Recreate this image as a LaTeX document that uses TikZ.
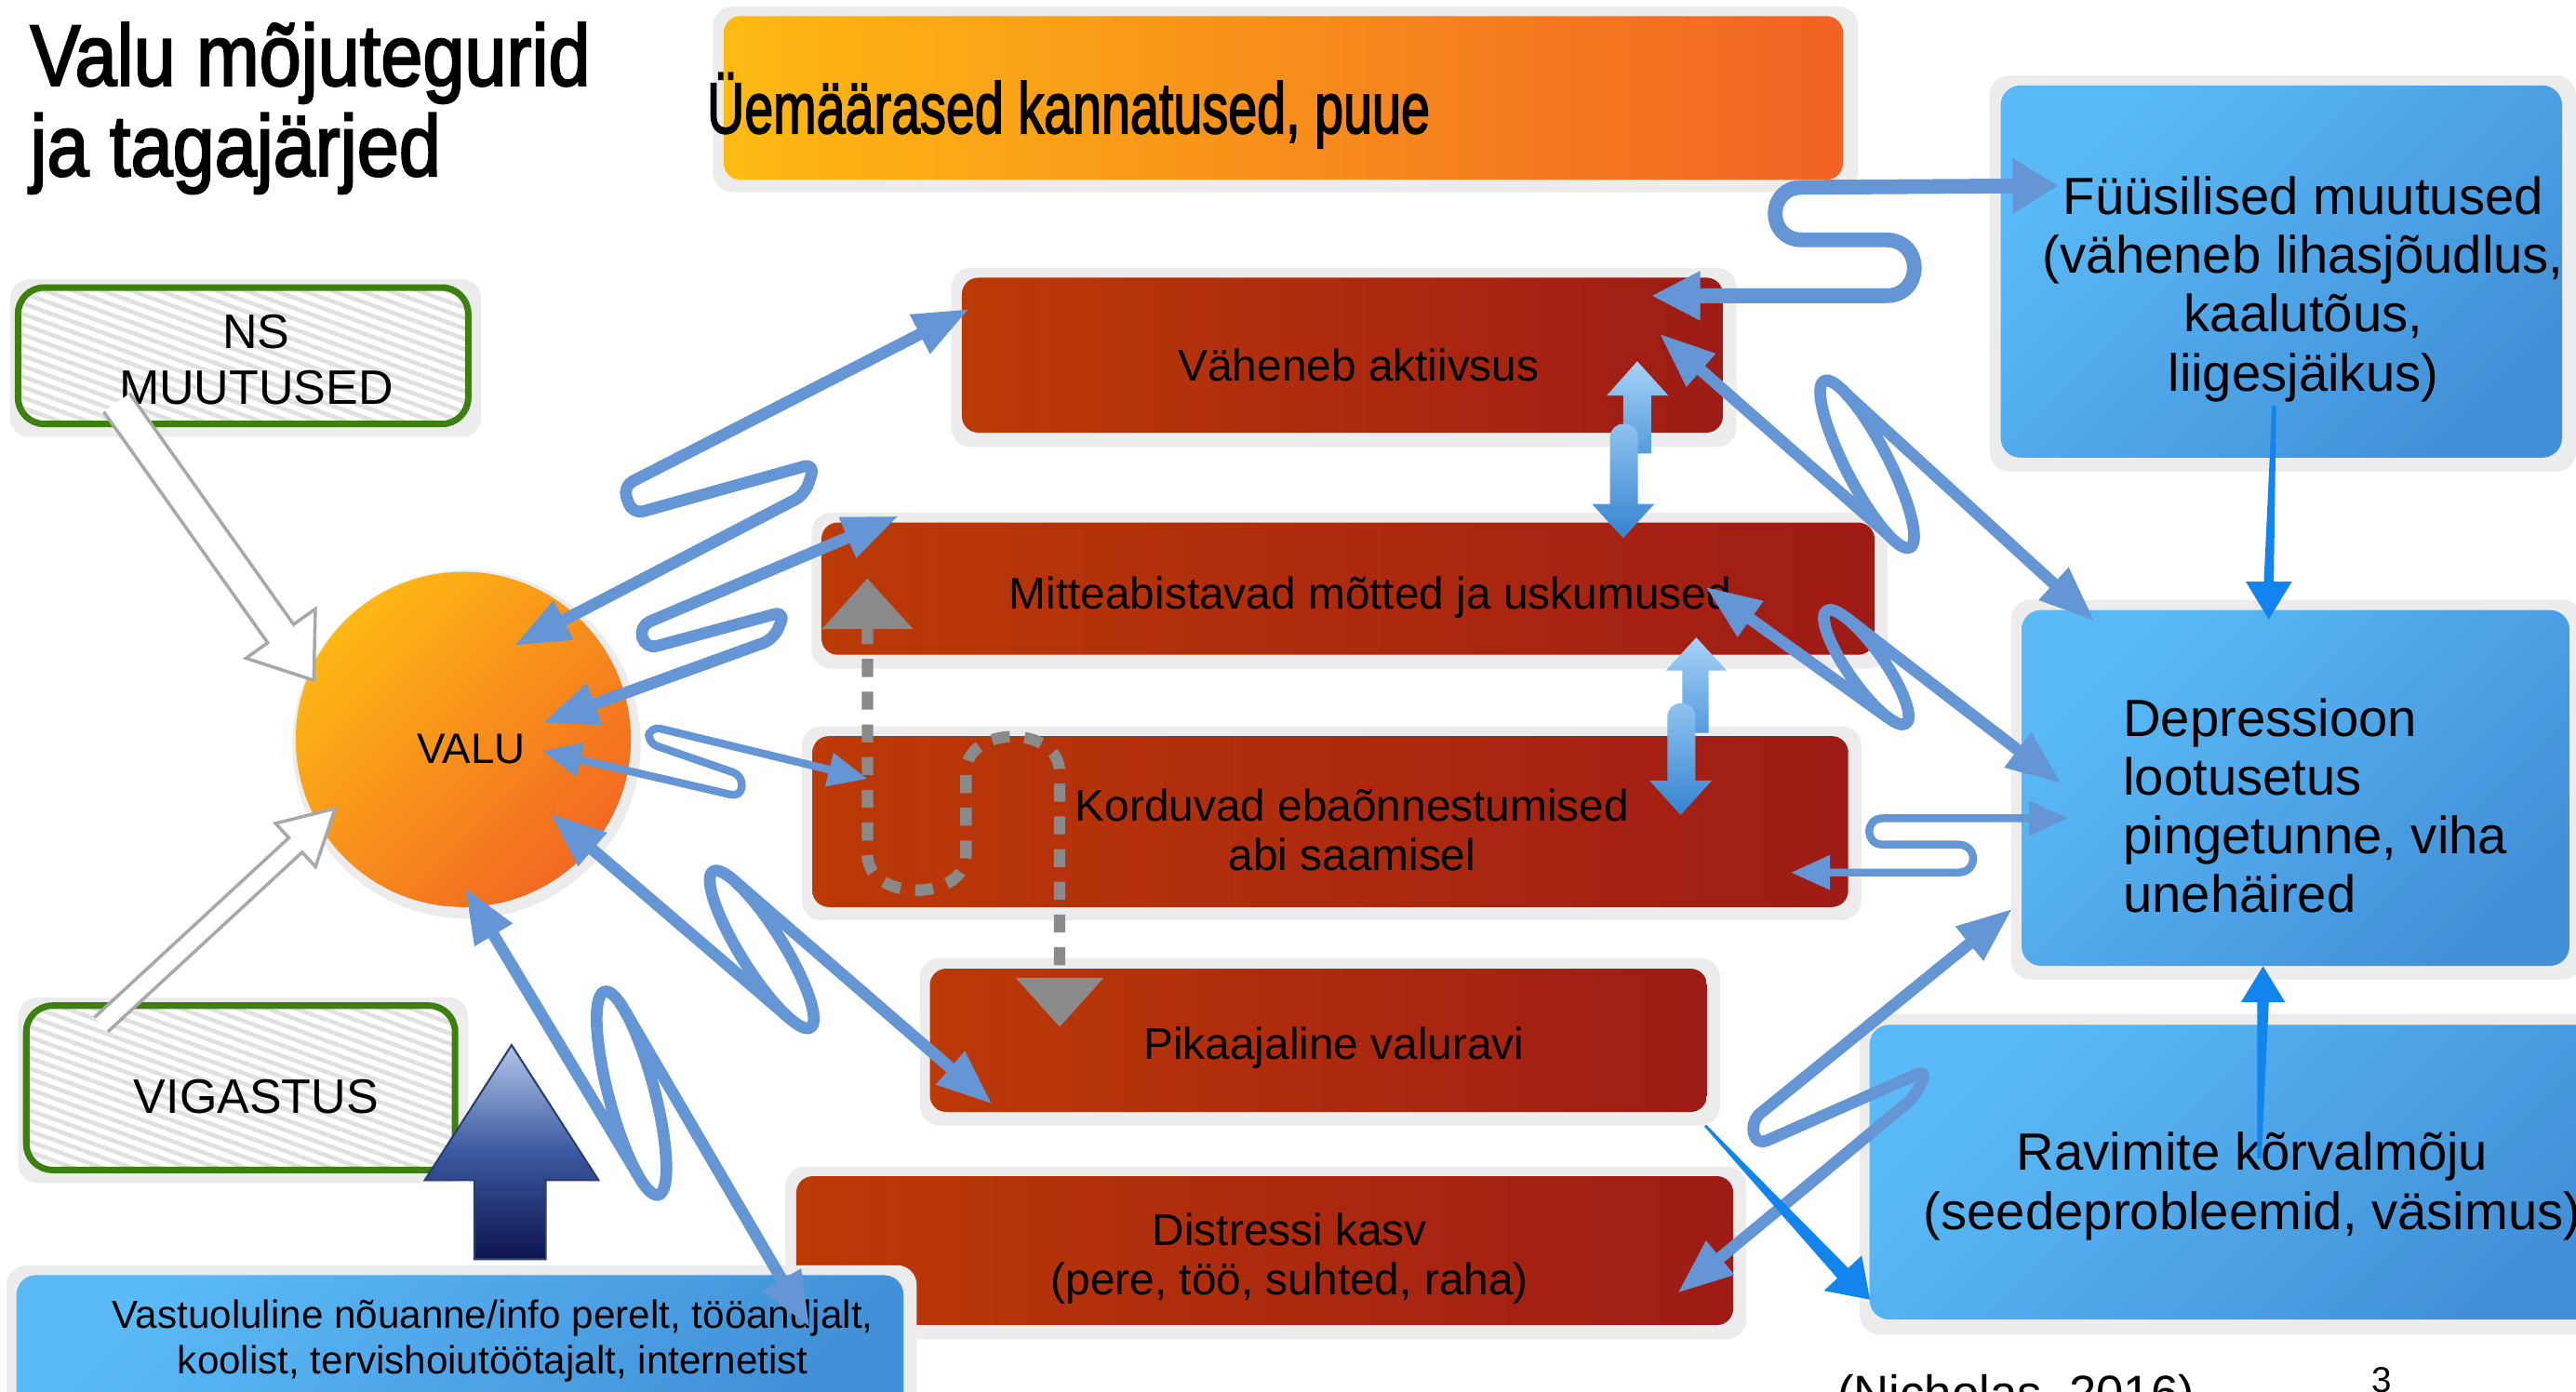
\documentclass[tikz,border=0pt]{standalone}
\usepackage{fontspec}
\setmainfont{Liberation Sans}
\newfontfamily\titlefont[FakeBold=2.5]{Liberation Sans}
\usepackage{graphicx}
\usetikzlibrary{arrows.meta,calc,patterns.meta}
\definecolor{cblue}{RGB}{100,150,214}
\definecolor{bbright}{RGB}{18,132,238}
\definecolor{redL}{RGB}{188,58,6}
\definecolor{redR}{RGB}{158,27,22}
\definecolor{bluT}{RGB}{90,186,247}
\definecolor{bluB}{RGB}{66,145,216}
\definecolor{orT}{RGB}{254,186,18}
\definecolor{orB}{RGB}{241,98,36}
\definecolor{vT}{RGB}{254,184,20}
\definecolor{vB}{RGB}{242,104,34}
\definecolor{grn}{RGB}{62,128,16}
\definecolor{halo}{RGB}{236,236,236}
\definecolor{dashg}{RGB}{138,138,138}
\definecolor{holg}{RGB}{168,168,168}
\definecolor{navyT}{RGB}{178,198,232}
\definecolor{navyM}{RGB}{60,88,160}
\definecolor{navyB}{RGB}{12,20,78}
\definecolor{dT}{RGB}{165,210,248}
\definecolor{dB}{RGB}{52,132,208}
\tikzset{
  halobox/.style={fill=halo, rounded corners=6pt},
  redbox/.style={left color=redL, right color=redR, rounded corners=5pt},
  blubox/.style={top color=bluT, bottom color=bluB, shading angle=45, rounded corners=6pt},
  orbox/.style={left color=orT, right color=orB, rounded corners=5pt},
  greenframe/.style={draw=grn, line width=2pt, rounded corners=8pt},
  hatch/.style={pattern={Lines[angle=-20,distance=3pt,line width=1.3pt]}, pattern color=black!12, rounded corners=8pt},
  txt/.style={inner sep=0pt, align=center, text=black},
  redtxt/.style={txt, font=\fontsize{13.6}{15}\selectfont},
  blutxt/.style={txt, font=\fontsize{16}{18}\selectfont},
  conn/.style={draw=cblue, line width=3.6pt, line cap=round, line join=round},
  thinconn/.style={draw=cblue, line width=2.4pt, line cap=round, line join=round},
  tipA/.style={{Triangle[length=17pt,width=12.5pt]}-{Triangle[length=17pt,width=12.5pt]}},
  tipS/.style={{Triangle[length=17pt,width=12.5pt]}-},
  tipE/.style={-{Triangle[length=17pt,width=12.5pt]}},
  tipSm/.style={{Triangle[length=12pt,width=10pt]}-{Triangle[length=12pt,width=10pt]}},
  tipF/.style={{Triangle[length=15pt,width=14pt]}-{Triangle[length=14pt,width=16pt]}},
  dashU/.style={draw=dashg, line width=3.5pt, dash pattern=on 5.5pt off 4.5pt, {Triangle[length=15.5pt,width=27pt]}-{Triangle[length=15pt,width=26pt]}},
  holarrow/.style={draw=holg, line width=1pt, fill=white, line join=miter},
  bright/.style={fill=bbright},
  d3up/.style={top color=dT, bottom color=dB!70!dT},
  d3dn/.style={top color=dT!80!dB, bottom color=dB},
}
\begin{document}
\begin{tikzpicture}[x=0.01766cm, y=-0.01765cm]
\useasboundingbox (0,0) rectangle (1568,847);
\fill[white] (0,0) rectangle (1568,847);

% ---------- title ----------
\node[anchor=base west, inner sep=0pt] (title1) at (18,52) {\titlefont\fontsize{26.5}{30}\selectfont\scalebox{0.87}[1]{Valu mõjutegurid}};
\node[anchor=base west, inner sep=0pt] (title2) at (18,107) {\titlefont\fontsize{26.5}{30}\selectfont\scalebox{0.87}[1]{ja tagajärjed}};

% ---------- orange box ----------
\path[halobox] (434,4) rectangle (1131,117);
\path[orbox] (440.6,9.8) rectangle (1121.8,109.4);
\node[anchor=base west, inner sep=0pt] (ule) at (430,81) {\titlefont\fontsize{22}{26}\selectfont\scalebox{0.72}[1]{Üemäärased kannatused, puue}};

% ---------- NS MUUTUSED ----------
\path[halobox] (6,170) rectangle (293,266);
\path[fill=white, rounded corners=8pt] (11,175) rectangle (285,258);
\path[hatch] (11,175) rectangle (285,258);
\draw[greenframe] (11,175) rectangle (285,258);
\node[txt, font=\fontsize{14.8}{17}\selectfont] (ns) at (156,219) {NS\\MUUTUSED};

% ---------- VIGASTUS ----------
\path[halobox] (11,607) rectangle (285,720);
\path[fill=white, rounded corners=8pt] (16,612) rectangle (277,712);
\path[hatch] (16,612) rectangle (277,712);
\draw[greenframe] (16,612) rectangle (277,712);
\node[txt, font=\fontsize{14.8}{17}\selectfont] (vig) at (156,667.6) {VIGASTUS};

% ---------- VALU ----------
\path[fill=halo] (284,453) circle [radius=106];
\path[top color=vT, bottom color=vB, shading angle=45] (282,450) circle [radius=102];
\node[txt, font=\fontsize{13}{15}\selectfont] (valu) at (287,456) {VALU};

% ---------- red boxes ----------
\path[halobox] (579,163) rectangle (1057,272);
\path[redbox] (585.5,169) rectangle (1048.7,263.3);
\node[redtxt] (vah) at (827,222) {Väheneb aktiivsus};

\path[halobox] (494,312) rectangle (1149,407);
\path[redbox] (500,318) rectangle (1141,398.5);
\node[redtxt] (mit) at (834,363.5) {Mitteabistavad mõtted ja uskumused};

\path[halobox] (488,442) rectangle (1133,560);
\path[redbox] (494.5,448) rectangle (1125,552);
\node[redtxt] (kor) at (823,505) {Korduvad ebaõnnestumised\\abi saamisel};

\path[halobox] (560,583) rectangle (1047,685);
\path[redbox] (566,589.5) rectangle (1039,676.7);
\node[redtxt] (pik) at (812,637.5) {Pikaajaline valuravi};

\path[halobox] (478,710) rectangle (1063,815);
\path[redbox] (484.7,715.8) rectangle (1055,806.4);
\node[redtxt] (dis) at (785,766) {Distressi kasv\\(pere, töö, suhted, raha)};

% ---------- blue boxes ----------
\path[halobox] (4,770) rectangle (558,880);
\path[blubox] (10,776) rectangle (550,870);
\node[txt, font=\fontsize{12}{14}\selectfont] (vas) at (300,816) {Vastuoluline nõuanne/info perelt, tööandjalt,\\koolist, tervishoiutöötajalt, internetist};

\path[halobox] (1211,46) rectangle (1568,287);
\path[blubox] (1217.8,52) rectangle (1559.5,278.5);
\node[blutxt] (fuu) at (1402,176) {Füüsilised muutused\\(väheneb lihasjõudlus,\\kaalutõus,\\liigesjäikus)};

\path[halobox] (1224,365) rectangle (1572,596);
\path[blubox] (1230.5,371.2) rectangle (1564,587.8);
\node[blutxt, align=left, anchor=west, font=\fontsize{16}{17.9}\selectfont] (dep) at (1292,490.5) {Depressioon\\lootusetus\\pingetunne, viha\\unehäired};

\path[halobox] (1132,617) rectangle (1590,812);
\path[blubox] (1138,623.7) rectangle (1590,803);
\node[blutxt] (rav) at (1371,722) {Ravimite kõrvalmõju\\(seedeprobleemid, väsimus)};

% ---------- footer ----------
\node[anchor=north west, inner sep=0pt, font=\fontsize{15}{18}\selectfont] (cite) at (1118,836) {(Nicholas, 2016)};
\node[anchor=north, inner sep=0pt, font=\fontsize{11}{13}\selectfont] (pnum) at (1450,832) {3};

% ---------- hollow gray arrows ----------
\coordinate (nsT) at (71,245);
\coordinate (nsQ) at (191,414);
\coordinate (nsH) at ($(nsQ)!17.5pt!(nsT)$);
\draw[holarrow] ($(nsT)!4.85pt!90:(nsQ)$) -- ($(nsH)!4.85pt!90:(nsQ)$) -- ($(nsH)!13pt!90:(nsQ)$) -- (nsQ) -- ($(nsH)!13pt!-90:(nsQ)$) -- ($(nsH)!4.85pt!-90:(nsQ)$) -- ($(nsT)!4.85pt!-90:(nsQ)$);
\coordinate (vgT) at (61.6,623.5);
\coordinate (vgQ) at (204,492);
\coordinate (vgH) at ($(vgQ)!16.5pt!(vgT)$);
\draw[holarrow] ($(vgT)!3pt!90:(vgQ)$) -- ($(vgH)!3pt!90:(vgQ)$) -- ($(vgH)!9pt!90:(vgQ)$) -- (vgQ) -- ($(vgH)!9pt!-90:(vgQ)$) -- ($(vgH)!3pt!-90:(vgQ)$) -- ($(vgT)!3pt!-90:(vgQ)$);

% ---------- big navy arrow ----------
\path[top color=navyT, bottom color=navyB, middle color=navyM, draw=navyM!70!black, line width=0.6pt] (311.4,636) -- (364.3,718.2) -- (332.2,718.2) -- (332.2,766.3) -- (288.8,766.3) -- (288.8,718.2) -- (258.6,718.2) -- cycle;

% ---------- gray dashed U ----------
\coordinate (g0) at (528,352);
\coordinate (g1) at (645,625);
\draw[dashU] (g0) -- (528,520) .. controls (528,549) and (588,549) .. (588,520) -- (588,470) .. controls (588,441) and (645,441) .. (645,470) -- (g1);

% ---------- 3D double arrows ----------
\path[d3up] (996.6,219.9) -- (1015.5,240.7) -- (1005,240.7) -- (1005,276) -- (988,276) -- (988,240.7) -- (978,240.7) -- cycle;
\path[d3dn] (988,327.5) -- (969,306.7) -- (980,306.7) [rounded corners=4pt] -- (980,258) -- (997,258) [sharp corners] -- (997,306.7) -- (1007,306.7) -- cycle;
\path[d3up] (1032.5,388) -- (1051,408) -- (1040,408) -- (1040,446) -- (1024,446) -- (1024,408) -- (1014,408) -- cycle;
\path[d3dn] (1023,496) -- (1004,475) -- (1015,475) [rounded corners=4pt] -- (1015,428) -- (1032,428) [sharp corners] -- (1032,475) -- (1042,475) -- cycle;

% ---------- blue looping connectors ----------
% VALU <-> Vaheneb aktiivsus
\coordinate (A0) at (590,188); \coordinate (A1) at (313,393);
\draw[conn, tipA, rounded corners=3.5pt] (A0) -- (379,296) -- (385,313) -- (496,282) -- (490,301) -- (A1);
% VALU <-> Mitteabistavad
\coordinate (B0) at (547,314); \coordinate (B1) at (330,440);
\draw[conn, tipA, rounded corners=3.5pt] (B0) -- (389,381) -- (393,395) -- (478,372) -- (471,389) -- (B1);
% VALU <-> Korduvad
\coordinate (C0) at (330,457); \coordinate (C1) at (528,474);
\draw[thinconn, tipSm, rounded corners=3pt] (C0) -- (451,485) -- (452,472) -- (394,452) -- (396,442) -- (C1);
% VALU <-> Pikaajaline
\coordinate (D0) at (335,495); \coordinate (D1) at (604,672);
\draw[conn, tipS] (D0) -- (479.0,618.3);
\draw[conn, rotate around={-58:(463.7,577.8)}] (463.7,577.8) ellipse [x radius=56, y radius=13];
\draw[conn, tipE] (448.4,537.3) -- (D1);
% VALU <-> Vastuoluline
\coordinate (E0) at (283,540); \coordinate (E1) at (493,808);
\draw[conn, tipS] (E0) -- (387.9,714.4);
\draw[conn, rotate around={-75.2:(384.4,665.3)}] (384.4,665.3) ellipse [x radius=64, y radius=14];
\draw[conn, tipE] (380.9,616.2) -- (E1);
% Vaheneb <-> Fuusilised
\coordinate (F0) at (1005,180); \coordinate (F1) at (1253,113);
\draw[conn, line width=4.5pt, tipF] (F0) -- (1148,180) .. controls (1171,180) and (1171,146) .. (1148,146) -- (1097,146) .. controls (1075,146) and (1075,114) .. (1097,114) -- (F1);
% Vaheneb <-> Depressioon
\coordinate (G0) at (1010,203); \coordinate (G1) at (1275,378);
\draw[conn, tipS] (G0) -- (1148.6,324.7);
\draw[conn, rotate around={-62.7:(1136.5,282.5)}] (1136.5,282.5) ellipse [x radius=57, y radius=13];
\draw[conn, tipE] (1124.4,240.3) -- (G1);
% Mitteabistavad <-> Depressioon
\coordinate (H0) at (1038,357); \coordinate (H1) at (1255,477);
\draw[conn, tipS] (H0) -- (1148.4,436.2);
\draw[conn, rotate around={-54.8:(1136,406)}] (1136,406) ellipse [x radius=42, y radius=11];
\draw[conn, tipE] (1123.6,375.8) -- (H1);
% Korduvad <-> Depressioon
\coordinate (I0) at (1090,531); \coordinate (I1) at (1259,498);
\draw[thinconn, tipSm] (I0) -- (1192,531) .. controls (1204,531) and (1204,514) .. (1192,514) -- (1146,514) .. controls (1135,514) and (1135,498) .. (1146,498) -- (I1);
% Distressi <-> Depressioon
\coordinate (J0) at (1225,553); \coordinate (J1) at (1021,787);
\draw[conn, tipA, rounded corners=3.5pt] (J0) -- (1066,682) -- (1069,697) -- (1173,651) -- (1166,667) -- (J1);

% ---------- bright blue arrows ----------
\path[bright] (1383,247) -- (1385.5,247) -- (1384,354) -- (1395,354) -- (1381,377) -- (1367,354) -- (1378,354) -- cycle;
\path[bright] (1374,705) -- (1376.5,705) -- (1381,610) -- (1391,610) -- (1377.5,588) -- (1364,610) -- (1374,610) -- cycle;
\path[bright] (1038.6,684.5) -- (1125,771.7) -- (1133.2,764.1) -- (1138.2,790.9) -- (1110.2,785.5) -- (1118.4,777.9) -- (1037.4,685.5) -- cycle;
\end{tikzpicture}
\end{document}
